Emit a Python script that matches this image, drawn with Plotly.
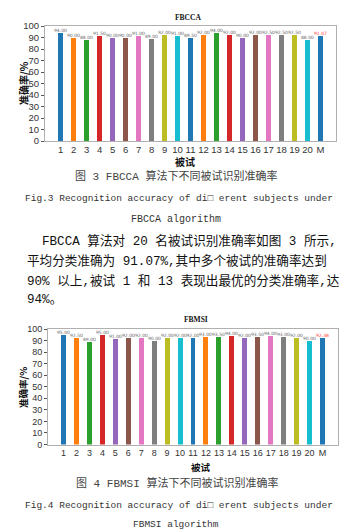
import plotly.graph_objects as go

W, H = 359, 529

subjects = [str(i) for i in range(1, 21)] + ["M"]
fbcca_acc = [94.00, 90.00, 88.00, 91.50, 90.00, 90.00, 91.00, 89.00, 92.00, 91.00,
             89.50, 92.00, 94.00, 92.00, 90.00, 92.00, 92.50, 92.50, 92.50, 88.00, 91.07]
fbmsi_acc = [95.00, 92.50, 89.00, 95.00, 91.00, 92.00, 92.00, 90.00, 92.00, 92.00,
             92.00, 93.00, 93.50, 94.00, 92.00, 93.50, 94.00, 93.00, 92.00, 90.00, 92.38]
y_ticks = [0, 10, 20, 30, 40, 50, 60, 70, 80, 90, 100]

tab10 = ["#1f77b4", "#ff7f0e", "#2ca02c", "#d62728", "#9467bd",
         "#8c564b", "#e377c2", "#7f7f7f", "#bcbd22", "#17becf"]
bar_colors = [tab10[i % 10] for i in range(len(subjects))]
label_colors = ["#666666"] * (len(subjects) - 1) + ["#ff3333"]


def px(x):
    return x / W


def py(y):
    return 1 - y / H


fig = go.Figure()
for vals, xa, ya in [(fbcca_acc, "x", "y"), (fbmsi_acc, "x2", "y2")]:
    fig.add_trace(go.Bar(
        x=subjects, y=vals, xaxis=xa, yaxis=ya,
        marker=dict(color=bar_colors, line=dict(width=0)),
        width=0.38,
        text=[f"{v:.2f}" for v in vals],
        textposition="outside",
        constraintext="none",
        cliponaxis=False,
        textfont=dict(size=4.5, color=label_colors, family="DejaVu Sans"),
        showlegend=False,
    ))

axis_common = dict(showline=True, mirror=True, linecolor="#b0b0b0", linewidth=1,
                   showgrid=False, zeroline=False, automargin=False)
TICKFONT = "Liberation Sans"

fig.update_layout(
    width=W, height=H,
    margin=dict(l=0, r=0, t=0, b=0),
    paper_bgcolor="white", plot_bgcolor="white",
    bargap=0,
    xaxis=dict(domain=[px(37), px(328)], anchor="y", type="category",
               range=[-1.2, 21.2], ticks="", tickangle=0,
               tickfont=dict(size=9.5, color="#333", family=TICKFONT), **axis_common),
    yaxis=dict(domain=[py(133), py(18)], anchor="x", range=[0, 100],
               tickvals=y_ticks, ticks="outside", ticklen=3, tickcolor="#555",
               tickfont=dict(size=9.5, color="#333", family=TICKFONT), **axis_common),
    xaxis2=dict(domain=[px(40), px(330)], anchor="y2", type="category",
                range=[-1.2, 21.2], ticks="", tickangle=0,
                tickfont=dict(size=9, color="#333", family=TICKFONT), **axis_common),
    yaxis2=dict(domain=[py(436.5), py(321)], anchor="x2", range=[0, 100],
                tickvals=y_ticks, ticks="outside", ticklen=3, tickcolor="#555",
                tickfont=dict(size=9, color="#333", family=TICKFONT), **axis_common),
)

CJK = "Noto Sans CJK SC"
MONO_CJK = "Liberation Mono, Noto Sans CJK SC"
SERIF = "Liberation Serif, Noto Sans CJK SC"

anns = []


def add(text, x, y, size, color="#222", family=MONO_CJK, xanchor="center", angle=0, bold=False):
    anns.append(dict(text=text, x=px(x), y=py(y), xref="paper", yref="paper",
                     showarrow=False, xanchor=xanchor, yanchor="middle", textangle=angle,
                     borderpad=0,
                     font=dict(size=size, color=color, family=family,
                               weight="bold" if bold else "normal")))


# chart 1 texts
add("FBCCA", 180, 9, 7.5, "#111", SERIF, bold=True)
add("准确率/%", 15, 75, 10, "#111", CJK, angle=-90, bold=True)
add("被试", 177, 153, 10, "#111", CJK, bold=True)
add("图 3 FBCCA 算法下不同被试识别准确率", 168, 168, 11, "#444")
add("Fig.3 Recognition accuracy of di\u25a1 erent subjects under", 171, 190, 9.5, "#333")
add("FBCCA algorithm", 168, 211, 10, "#333")

# paragraph
add("FBCCA 算法对 20 名被试识别准确率如图 3 所示,", 33, 233, 12.6, "#111", xanchor="left")
add("平均分类准确为 91.07%,其中多个被试的准确率达到", 18, 253, 12.6, "#111", xanchor="left")
add("90% 以上,被试 1 和 13 表现出最优的分类准确率,达", 18, 273, 12.6, "#111", xanchor="left")
add("94%。", 18, 292, 12.6, "#111", xanchor="left")

# chart 2 texts
add("FBMSI", 188, 311, 7.5, "#111", SERIF, bold=True)
add("准确率/%", 15, 380, 9.5, "#111", CJK, angle=-90, bold=True)
add("被试", 193, 459, 9.5, "#111", CJK, bold=True)
add("图 4 FBMSI 算法下不同被试识别准确率", 169, 475, 11, "#444")
add("Fig.4 Recognition accuracy of di\u25a1 erent subjects under", 171, 497, 9.5, "#333")
add("FBMSI algorithm", 168, 516, 9.5, "#333")

fig.update_layout(annotations=anns)
fig.write_html("out.html")
